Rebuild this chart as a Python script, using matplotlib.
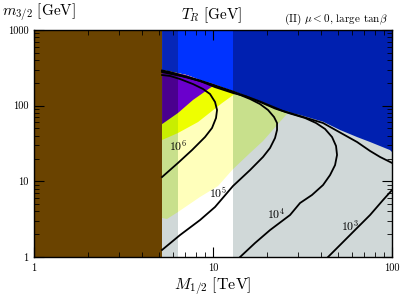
import numpy as np
import matplotlib
matplotlib.use('Agg')
import matplotlib.pyplot as plt
from matplotlib.patches import Rectangle
from matplotlib.ticker import LogLocator, NullFormatter

plt.rcParams['font.family'] = 'serif'
plt.rcParams['font.serif'] = ['cmr10']
plt.rcParams['mathtext.fontset'] = 'cm'
plt.rcParams['axes.formatter.use_mathtext'] = True

# bandas verticales en M_1/2 [TeV]
x_brown = 5.19
x_bands = [5.19, 6.37, 12.93, 100.0]

# frontera de la region azul (arriba)
bound_x = [5.19, 5.75, 7.13, 8.46, 9.62, 12.93, 18.31, 24.61, 30.62, 41.17, 51.23, 63.77, 75.38, 97.4, 100.0]
bound_y = [296, 283, 254, 218, 199, 156, 115, 85.0, 75.3, 61.4, 47.7, 38.5, 33.1, 25.9, 24.4]

# bordes inferiores de las regiones coloreadas
pale_x = [5.19, 5.53, 6.37, 8.46, 10.67, 12.93, 16.10, 19.02, 26.5]
pale_y = [3.28, 3.18, 3.93, 6.21, 8.68, 14.5, 23.7, 34.1, 83]
yel_x = [5.19, 6.37, 8.25, 11.22, 13.6]
yel_y = [35.2, 43.5, 60.8, 108, 150]
pur_x = [5.19, 6.37, 7.73, 9.62, 10.3]
pur_y = [57, 80, 119, 171, 190]

# contornos de T_R
c6_x = [5.19, 6.37, 7.63, 9.02, 9.87, 10.39, 10.53, 10.26, 9.62, 8.80, 7.73, 6.54, 5.75, 5.19]
c6_y = [11.4, 17.5, 25.9, 38.5, 50.7, 68.7, 87.6, 112, 142.6, 166, 193, 225, 247, 254]
c5_x = [5.19, 6.54, 8.46, 10.26, 12.93, 16.10, 19.02, 20.82, 22.20, 22.78, 22.78, 21.92,
        20.29, 18.31, 16.10, 12.93, 9.62, 7.13, 5.19]
c5_y = [1.24, 1.95, 3.08, 4.58, 8.68, 14.1, 21.0, 27.6, 37.4, 47.7, 59.0, 70.8,
        87.6, 105, 122.5, 151.6, 193, 239, 278]
c4_x = [14.16, 17.16, 20.82, 26.93, 30.62, 35.7, 41.17, 45.05, 48.05, 49.29, 48.66, 46.23,
        42.24, 37.62, 32.66, 26.93, 22.20, 18.31, 15.10, 12.93, 10.26, 8.46, 6.98, 5.75, 5.19]
c4_y = [1.0, 1.53, 2.27, 3.59, 5.17, 6.60, 8.94, 12.1, 16.4, 22.3, 29.3, 38.5,
        49.2, 59.0, 68.7, 78.8, 91.7, 112, 134, 147, 176, 212, 239, 270, 287]
c3a_x = [43.9, 51.23, 63.77, 75.38, 89.1, 100]
c3a_y = [1.0, 1.44, 2.42, 3.59, 5.67, 7.68]
c3b_x = [100, 85.7, 75.38, 63.77, 51.23, 41.17, 30.62, 24.61, 18.31, 12.93, 8.46, 5.75, 5.19]
c3b_y = [17.5, 21.0, 25.2, 33.1, 44.2, 59.0, 73.0, 85.0, 113.5, 153.8, 215, 278, 292]

labels = ['$10^6$', '$10^5$', '$10^4$', '$10^3$']
lab_x = [6.37, 10.66, 22.5, 58.2]
lab_y = [29.3, 7.0, 3.7, 2.57]

# colores por banda: izquierda, centro, derecha
grey_cols = ['#D0D8D8', 'white', '#D0D8D8']
blue_cols = ['#0626B8', '#0033FF', '#0020B0']
pale_cols = ['#C8E08C', '#FFFFBB', '#C8E08C']
yel_cols = ['#C8EE00', '#EEFF00', '#C8EE00']
pur_cols = ['#4A008E', '#6A00CC', '#5500AA']
brown = '#6A4300'

fig = plt.figure(figsize=(4.05, 3.0), dpi=100)
ax = fig.add_axes([0.084, 0.1433, 0.884, 0.7567])
ax.set_xscale('log')
ax.set_yscale('log')
ax.set_xlim(1, 100)
ax.set_ylim(1, 1000)


def region(lx, ly):
    bx = np.array(bound_x)
    by = np.array(bound_y)
    m = bx < lx[-1]
    return np.r_[lx, bx[m][::-1]], np.r_[ly, by[m][::-1]]


def band_fill(xs, ys, cols):
    for i, c in enumerate(cols):
        p, = ax.fill(xs, ys, color=c, lw=0, zorder=1)
        r = Rectangle((x_bands[i], 0.5), x_bands[i + 1] - x_bands[i], 5000,
                      transform=ax.transData)
        p.set_clip_path(r)


for i, c in enumerate(grey_cols):
    ax.axvspan(x_bands[i], x_bands[i + 1], color=c, lw=0, zorder=0)

band_fill(bound_x + [100, 5.19], bound_y + [1000, 1000], blue_cols)
band_fill(*region(pale_x, pale_y), pale_cols)
band_fill(*region(yel_x, yel_y), yel_cols)
band_fill(*region(pur_x, pur_y), pur_cols)
ax.axvspan(1, x_brown, color=brown, lw=0, zorder=1.5)

for xs, ys in [(c6_x, c6_y), (c5_x, c5_y), (c4_x, c4_y), (c3a_x, c3a_y), (c3b_x, c3b_y)]:
    ax.plot(xs, ys, color='black', lw=1.3, zorder=2, solid_joinstyle='round')

for t, x, y in zip(labels, lab_x, lab_y):
    ax.text(x, y, t, fontsize=8.5, ha='center', va='center', zorder=3)

ax.set_xticks([1, 10, 100])
ax.set_xticklabels(['1', '10', '100'])
ax.set_yticks([1, 10, 100, 1000])
ax.set_yticklabels(['1', '10', '100', '1000'])
ax.xaxis.set_minor_locator(LogLocator(base=10, subs=np.arange(2, 10)))
ax.yaxis.set_minor_locator(LogLocator(base=10, subs=np.arange(2, 10)))
ax.xaxis.set_minor_formatter(NullFormatter())
ax.yaxis.set_minor_formatter(NullFormatter())
ax.tick_params(which='both', direction='in', top=True, right=True, labelsize=7.5)
ax.tick_params(which='major', length=7, width=0.8)
ax.tick_params(which='minor', length=3.5, width=0.6)
ax.tick_params(axis='x', pad=5)
ax.tick_params(axis='y', pad=4)
for s in ax.spines.values():
    s.set_linewidth(1.0)

fig.text(0.004, 0.997, r'$m_{3/2}\ [\mathrm{GeV}]$', fontsize=11, ha='left', va='top')
fig.text(0.523, 0.948, r'$T_R\ [\mathrm{GeV}]$', fontsize=11, ha='center', va='center')
fig.text(0.958, 0.937, r'(II) $\mu<0$, large tan$\beta$', fontsize=8, ha='right', va='center')
fig.text(0.526, 0.047, r'$M_{1/2}\ [\mathrm{TeV}]$', fontsize=11.5, ha='center', va='center')

fig.savefig('out.png', dpi=100)
